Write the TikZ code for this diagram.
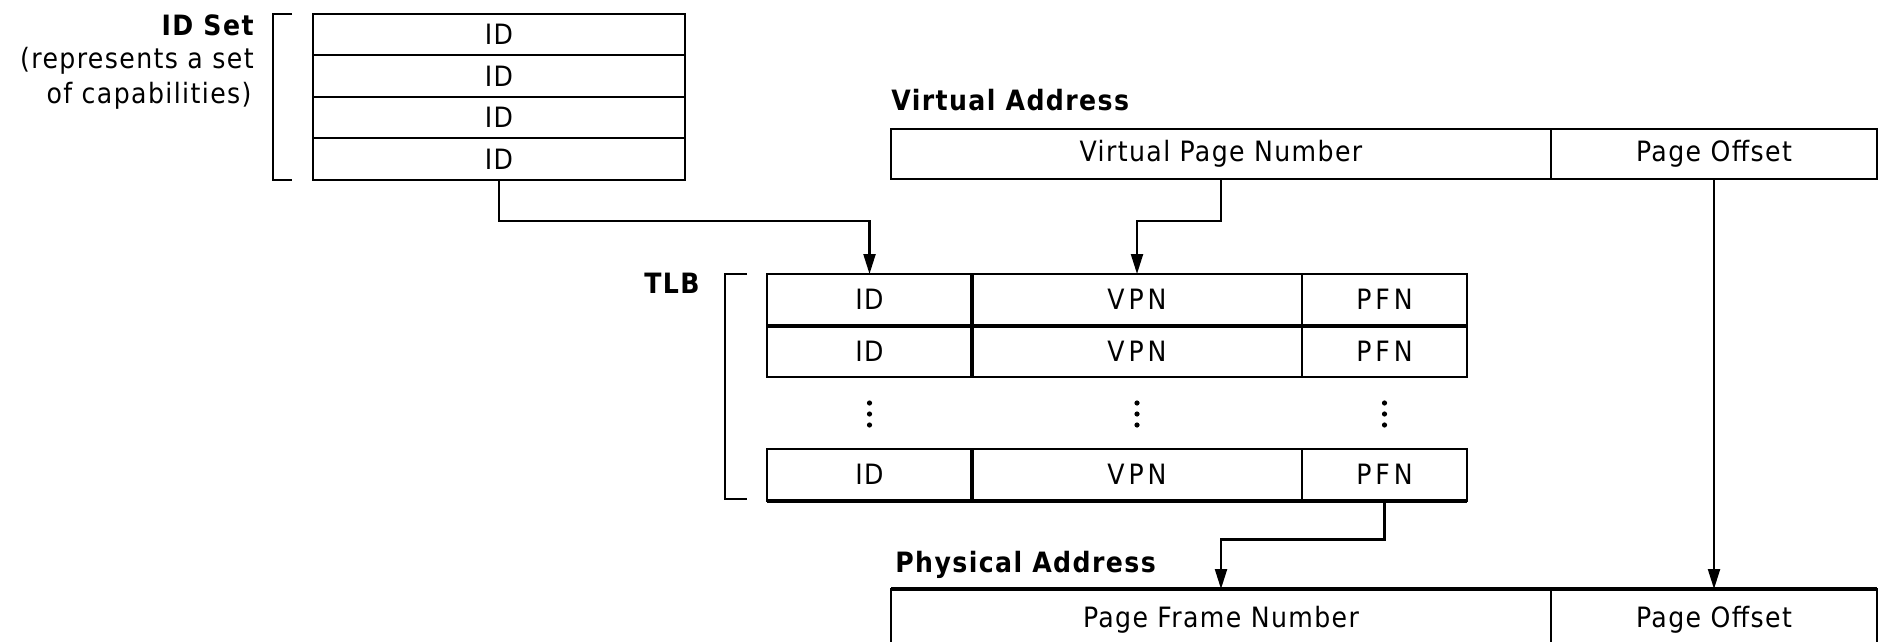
\documentclass[tikz,border=0pt]{standalone}
\usepackage{fontspec}
\setmainfont{DejaVu Sans Condensed}[LetterSpace=5]
\newfontfamily\wide{DejaVu Sans Condensed}[LetterSpace=14]
\usetikzlibrary{arrows.meta}
\begin{document}
\begin{tikzpicture}[x=0.5pt,y=-0.5pt,
  every node/.style={font=\fontsize{14pt}{17pt}\selectfont},
  cell/.style={draw, line width=1pt, inner sep=0pt, outer sep=0pt, anchor=north west},
  idcell/.style={cell, minimum width=186pt, minimum height=20.75pt},
  addrwide/.style={cell, minimum width=330pt},
  addrnarrow/.style={cell, minimum width=163pt},
  % the physical address runs on below the page edge
  openbox/.style={text height=19pt, text depth=22pt},
  tlbid/.style={cell, minimum width=102.5pt, minimum height=25.75pt},
  tlbvpn/.style={cell, minimum width=165pt, minimum height=25.75pt, font=\fontsize{14pt}{17pt}\wide},
  tlbpfn/.style={cell, minimum width=82.5pt, minimum height=25.75pt, font=\fontsize{14pt}{17pt}\wide},
  title/.style={font=\fontsize{14pt}{17pt}\selectfont\bfseries, inner sep=0pt},
  note/.style={inner sep=0pt, anchor=base east},
  heavy/.style={line width=2pt},
  bracket/.style={draw, line width=1pt},
  conn/.style={draw, line width=1.1pt, -{Triangle[length=10pt,width=6pt]}},
]
\useasboundingbox (0,0) rectangle (1884,642);

% ID set
\node[title, anchor=base east] (idsetlbl) at (254,36) {ID Set};
\node[note] (idsetnote1) at (254,69) {(represents a set};
\node[note] (idsetnote2) at (252,104) {of capabilities)};
\draw[bracket] (292,14) -- (273,14) -- (273,180) -- (292,180);
\node[idcell] (ids1) at (313,14) {ID};
\node[idcell] (ids2) at (313,55.5) {ID};
\node[idcell] (ids3) at (313,97) {ID};
\node[idcell] (ids4) at (313,138.5) {ID};

% Virtual address
\node[title, anchor=base west] (valbl) at (891,111) {Virtual Address};
\node[addrwide, minimum height=25pt] (vavpn) at (891,129) {Virtual Page Number};
\node[addrnarrow, minimum height=25pt] (vaoff) at (1551,129) {Page Offset};

% TLB
\node[title, anchor=base east] (tlblbl) at (700,293) {TLB};
\draw[bracket] (747,274) -- (725,274) -- (725,499) -- (747,499);
\node[tlbid] (t1id) at (767,274) {ID};
\node[tlbvpn] (t1vpn) at (972,274) {VPN};
\node[tlbpfn] (t1pfn) at (1302,274) {PFN};
\node[tlbid] (t2id) at (767,325.5) {ID};
\node[tlbvpn] (t2vpn) at (972,325.5) {VPN};
\node[tlbpfn] (t2pfn) at (1302,325.5) {PFN};
\node[tlbid] (t3id) at (767,449) {ID};
\node[tlbvpn] (t3vpn) at (972,449) {VPN};
\node[tlbpfn] (t3pfn) at (1302,449) {PFN};
\draw[heavy] (t1id.south west) -- (t1pfn.south east);
\draw[heavy] (t3id.south west) -- (t3pfn.south east);
\foreach \r in {t1,t2,t3}
  \draw[line width=1.6pt] (\r id.north east) -- (\r id.south east);
% elided rows
\foreach \cx in {869.5,1137,1384.5}
  \foreach \dy in {-11,0,11}
    \fill (\cx,414+\dy) circle[radius=1.3pt];

% Physical address
\node[title, anchor=base west] (palbl) at (895,572) {Physical Address};
\node[addrwide, openbox] (papfn) at (891,589) {Page Frame Number};
\node[addrnarrow, openbox] (paoff) at (1551,589) {Page Offset};
\draw[heavy] (papfn.north west) -- (paoff.north east);

% connectors
\draw[conn] (ids4.south) -- ++(0,41) -| (t1id.north);
\draw[conn] (vavpn.south) -- ++(0,42) -| (t1vpn.north);
\draw[conn] (t3pfn.south) -- ++(0,39) -| (papfn.north);
\draw[conn] (vaoff.south) -- (paoff.north);
\end{tikzpicture}
\end{document}
